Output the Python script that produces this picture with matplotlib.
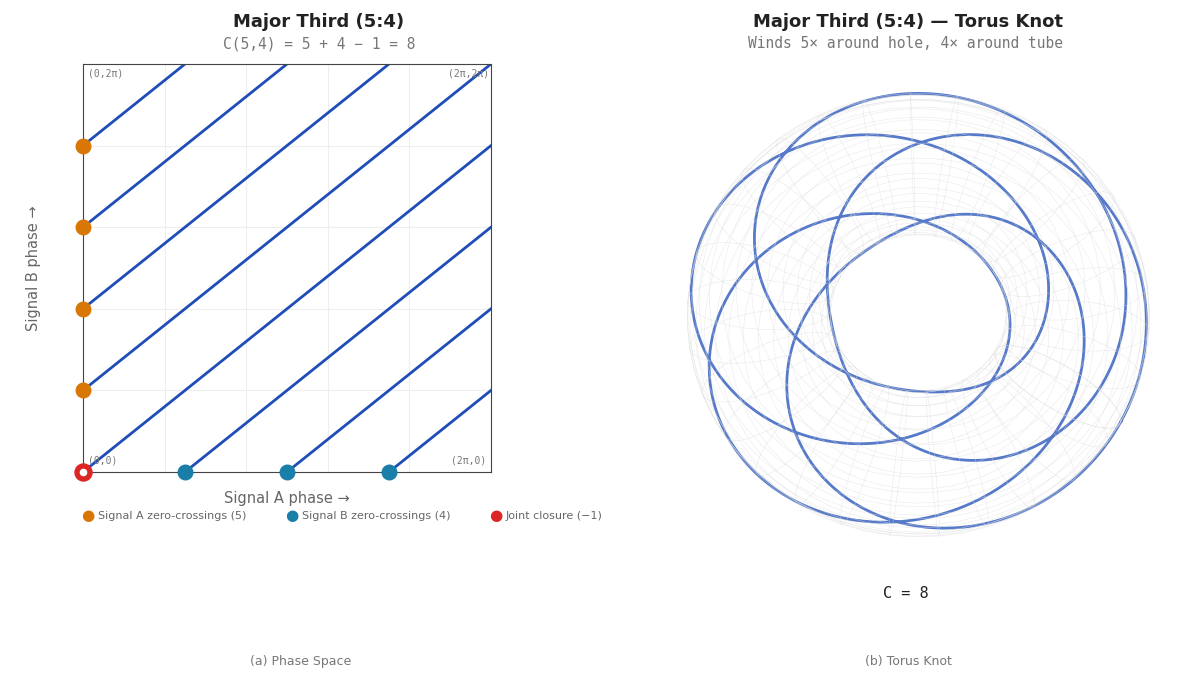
import numpy as np
import matplotlib
matplotlib.use("Agg")
import matplotlib.pyplot as plt

p, q = 5, 4
a_cross = [0.2, 0.4, 0.6, 0.8]      # fractions of 2π on B axis (Signal A zero-crossings)
b_cross = [0.25, 0.5, 0.75]         # fractions of 2π on A axis
legend_labels = ["Signal A zero-crossings (5)", "Signal B zero-crossings (4)", "Joint closure (−1)"]
c_orange, c_teal, c_red, c_blue = "#d97706", "#1a7fa8", "#dc2626", "#1e4db7"

fig = plt.figure(figsize=(12, 6.77), dpi=100)
TWO = 2*np.pi

ax = fig.add_axes([83/1200, 1-472/677, 408/1200, 408/677])
t = np.linspace(0, TWO, 4000)
xa = (p*t) % TWO
yb = (q*t) % TWO
brk = np.where((np.abs(np.diff(xa)) > 1) | (np.abs(np.diff(yb)) > 1))[0] + 1
for seg_x, seg_y in zip(np.split(xa, brk), np.split(yb, brk)):
    ax.plot(seg_x, seg_y, color=c_blue, lw=2)
ax.set_xlim(0, TWO); ax.set_ylim(0, TWO)
ax.set_xticks(np.arange(1, 5)*TWO/5); ax.set_yticks(np.arange(1, 5)*TWO/5)
ax.tick_params(length=0, labelbottom=False, labelleft=False)
ax.grid(color="#eeeeee", lw=0.8)
for s in ax.spines.values():
    s.set_color("#444444")
ax.scatter([0]*len(a_cross), np.array(a_cross)*TWO, s=110, color=c_orange, zorder=5, clip_on=False)
ax.scatter(np.array(b_cross)*TWO, [0]*len(b_cross), s=110, color=c_teal, zorder=5, clip_on=False)
ax.scatter([0], [0], s=150, color=c_red, zorder=6, clip_on=False)
ax.scatter([0], [0], s=20, color="white", zorder=7, clip_on=False)
mono = dict(family="DejaVu Sans Mono", fontsize=7, color="#777777")
ax.text(0.012, 0.99, "(0,2π)", transform=ax.transAxes, va="top", **mono)
ax.text(0.995, 0.99, "(2π,2π)", transform=ax.transAxes, va="top", ha="right", **mono)
ax.text(0.012, 0.015, "(0,0)", transform=ax.transAxes, va="bottom", **mono)
ax.text(0.988, 0.015, "(2π,0)", transform=ax.transAxes, va="bottom", ha="right", **mono)
ax.set_xlabel("Signal A phase →", fontsize=10.5, color="#666666", labelpad=14)
ax.set_ylabel("Signal B phase →", fontsize=10.5, color="#666666", labelpad=30)

fig.text(319/1200, 1-22/677, "Major Third (5:4)", ha="center", va="center", fontsize=13, weight="bold", color="#222222")
fig.text(319/1200, 1-44/677, "C(5,4) = 5 + 4 − 1 = 8", ha="center", va="center", fontsize=10.5, family="DejaVu Sans Mono", color="#777777")
lx = [88, 292, 496]
for x0, lab, c in zip(lx, legend_labels, [c_orange, c_teal, c_red]):
    fig.text(x0/1200, 1-516/677, "●", color=c, fontsize=11, ha="center", va="center")
    fig.text((x0+10)/1200, 1-516/677, lab, color="#666666", fontsize=8, va="center")
fig.text(301/1200, 1-661/677, "(a) Phase Space", ha="center", va="center", fontsize=9, color="#777777")

# Torus knot
fig.text(908/1200, 1-22/677, "Major Third (5:4) — Torus Knot", ha="center", va="center", fontsize=13, weight="bold", color="#222222")
fig.text(905/1200, 1-44/677, "Winds 5× around hole, 4× around tube", ha="center", va="center", fontsize=10.5, family="DejaVu Sans Mono", color="#777777")
ax3 = fig.add_axes([600/1200, 1-640/677, 620/1200, 640/677], projection="3d")
R, r = 2.0, 0.9
u = np.linspace(0, TWO, 60); v = np.linspace(0, TWO, 30)
U, V = np.meshgrid(u, v)
X = (R + r*np.cos(V))*np.cos(U); Y = (R + r*np.cos(V))*np.sin(U); Z = r*np.sin(V)
ax3.plot_wireframe(X, Y, Z, color="#dddddd", lw=0.4, alpha=0.6)
s = np.linspace(0, TWO, 3000)
kx = (R + r*np.cos(q*s))*np.cos(p*s); ky = (R + r*np.cos(q*s))*np.sin(p*s); kz = r*np.sin(q*s)
ax3.plot(kx, ky, kz, color=c_blue, lw=2, alpha=0.75)
ax3.view_init(elev=70, azim=-60)
ax3.set_box_aspect((1, 1, 0.45))
ax3.set_axis_off()
ax3.set_xlim(-2.7, 2.7); ax3.set_ylim(-2.7, 2.7); ax3.set_zlim(-1.2, 1.2)
fig.text(906/1200, 1-594/677, "C = 8", ha="center", va="center", fontsize=11, family="DejaVu Sans Mono", color="#222222")
fig.text(908/1200, 1-661/677, "(b) Torus Knot", ha="center", va="center", fontsize=9, color="#777777")

fig.savefig("out.png", dpi=100)
